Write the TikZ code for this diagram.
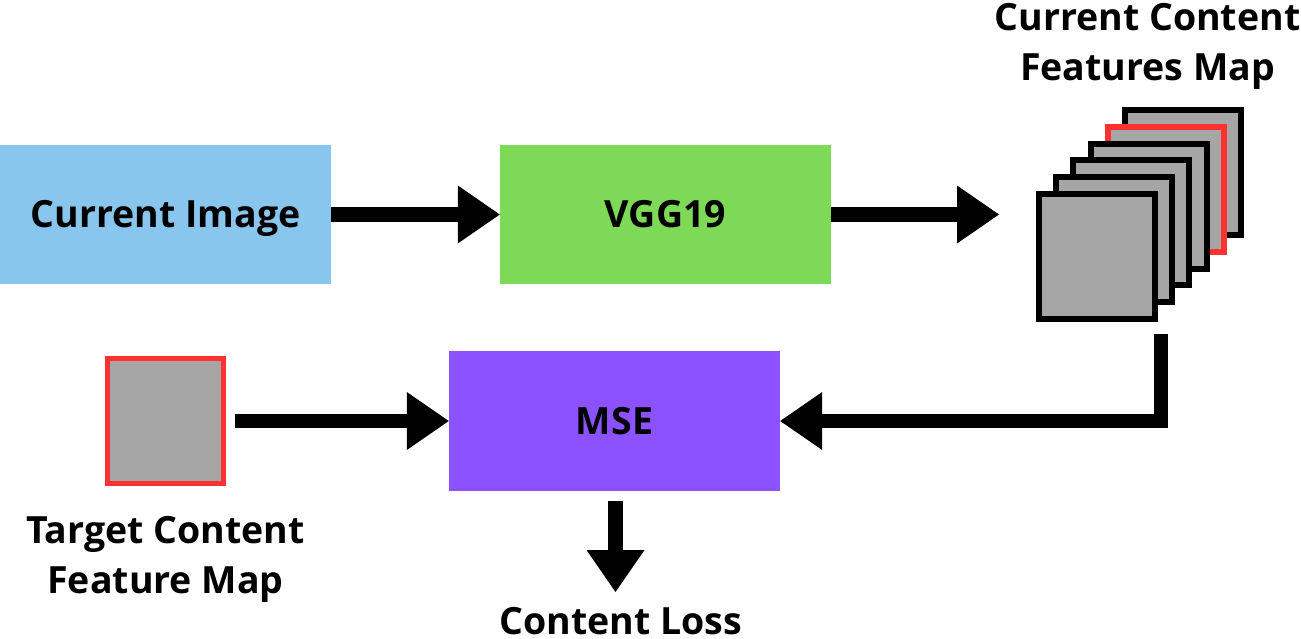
\documentclass[tikz,border=0pt]{standalone}
\usepackage{fontspec}
\setmainfont{Open Sans}
\usetikzlibrary{arrows.meta}
\definecolor{boxblue}{HTML}{89C6EE}
\definecolor{boxgreen}{HTML}{7ED957}
\definecolor{boxpurple}{HTML}{8C52FF}
\definecolor{mapred}{HTML}{FF3131}
\definecolor{mapgray}{HTML}{A6A6A6}
\begin{document}
\begin{tikzpicture}[x=1pt,y=-1pt,
  block/.style={rectangle, minimum width=331pt, minimum height=139pt, inner sep=0pt,
    text height=26.8pt, text depth=0pt,
    font=\fontsize{37.5}{50}\selectfont\bfseries},
  fmap/.style={rectangle, draw=black, line width=6pt, fill=mapgray, inner sep=0pt,
    minimum width=116pt, minimum height=125pt},
  label/.style={font=\fontsize{37.5}{50}\selectfont\bfseries, align=center, inner sep=0pt},
  fat/.style={line width=14.5pt, -{Triangle[length=42pt,width=58pt,line width=0pt]}},
]
\useasboundingbox (0,0) rectangle (1301,639);
% boxes
\node[block, fill=boxblue] (img) at (165.5,214.5) {Current Image};
\node[block, fill=boxgreen] (vgg) at (665.5,214.5) {VGG19};
\node[block, fill=boxpurple, minimum height=140pt] (mse) at (614.5,421) {MSE};
% feature map stack (back to front)
\node[fmap] (m5) at (1183,172.5) {};
\node[fmap, draw=mapred] (m4) at (1165.8,189.3) {};
\node[fmap] (m3) at (1148.6,206.1) {};
\node[fmap] (m2) at (1131.4,222.9) {};
\node[fmap] (m1) at (1114.2,239.7) {};
\node[fmap] (m0) at (1097,256.5) {};
% target map
\node[fmap, draw=mapred, line width=5pt] (tgt) at (165.5,421) {};
% labels
\node[label, anchor=base] (ttl) at (1147.5,81) {Current Content\\Features Map};
\node[label, anchor=base] (tlab) at (165.5,593) {Target Content\\Feature Map};
\node[label, anchor=base, text depth=0pt] (loss) at (621,634) {Content Loss};
% connectors
\coordinate (vggout) at (999,214.5);
\coordinate (stackout) at (1161,334);
\coordinate (lossin) at (615.5,592);
\draw[fat] (img.east) -- (vgg.west);
\draw[fat] (vgg.east) -- (vggout);
\draw[fat] (stackout) |- (mse.east);
\draw[fat, shorten <=9pt] (tgt.east) -- (mse.west);
\draw[fat, shorten <=10pt] (mse.south -| lossin) -- (lossin);
\end{tikzpicture}
\end{document}
